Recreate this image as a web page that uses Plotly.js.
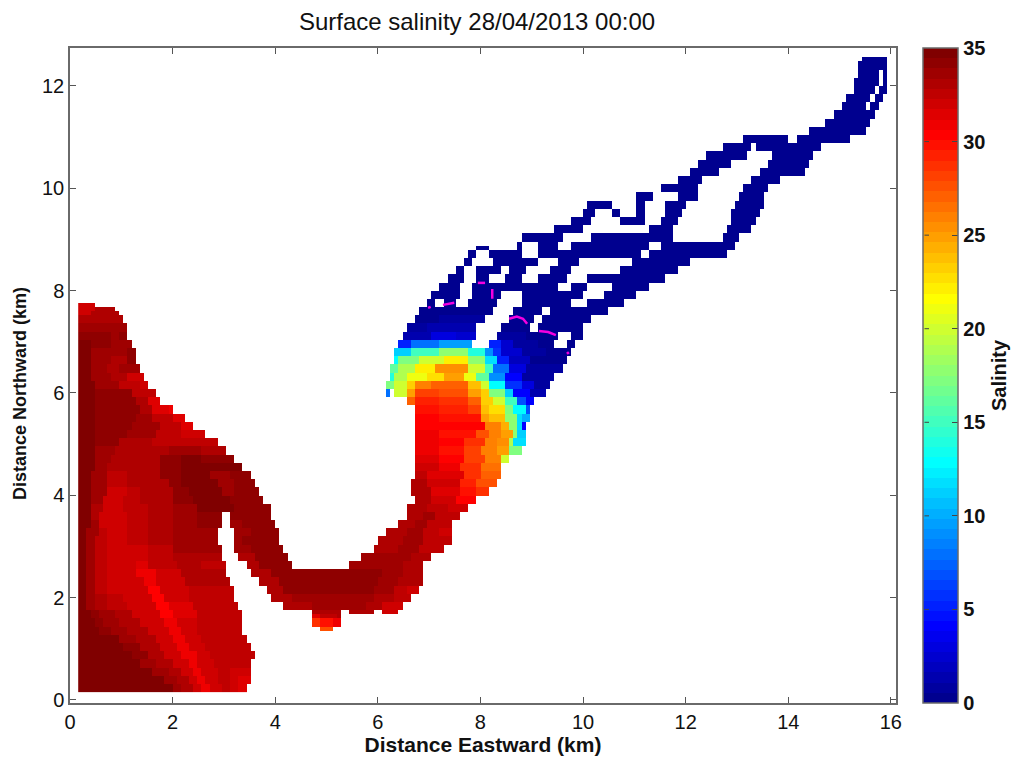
<!DOCTYPE html>
<html>
<head>
<meta charset="utf-8">
<script src="https://cdn.plot.ly/plotly-3.0.1.min.js"></script>
<style>html,body{margin:0;padding:0;background:#fff}#chart{width:1018px;height:758px}</style>
</head>
<body>
<div id="chart"></div>
<script>
// Each row: [northward km of row base, eastward km, salinity, eastward km, salinity, ..., closing eastward km]
// A null salinity is dry land between two wet stretches.
const salinityRows = [
[0.16, .16,35,1.7,34.6,2.0,33.8,2.2,33,2.4,32,2.58,31,2.72,32,2.95,32.8,3.1,32,3.3,31.2,3.45],
[0.32, .16,35,1.6,34.6,1.85,33.8,2.1,33,2.3,32,2.5,31,2.66,32,2.9,32.8,3.1,31.8,3.3,31.3,3.5],
[0.48, .16,35,1.4,34.6,1.6,33.9,1.9,33.1,2.15,32.2,2.4,31,2.6,32,2.85,32.6,3.1,31.8,3.5],
[0.64, .16,35,1.2,34.6,1.4,33.9,1.7,33.1,2.0,32.2,2.3,31,2.52,31.8,2.8,32.5,3.56],
[0.80, .16,35,1.0,34.6,1.2,34,1.55,33.2,1.85,32.2,2.2,31,2.45,31.8,2.7,32.4,3.6],
[0.96, .16,35,.85,34.6,1.05,34,1.4,33.2,1.75,32.2,2.12,31,2.35,31.8,2.65,32.4,3.53],
[1.12, .16,34.9,.75,34.5,.95,33.9,1.3,33,1.65,32.2,2.03,30.8,2.28,31.8,2.6,32.4,3.47],
[1.28, .16,34.9,.6,34.4,.8,33.8,1.15,33,1.5,32.2,1.93,30.8,2.18,31.8,2.5,32.4,3.39],
[1.36, .16,34.9,.6,34.4,.8,33.8,1.15,33,1.5,32.2,1.93,30.8,2.18,31.8,2.5,32.4,3.39,null,4.87,27.5,5.09],
[1.44, .16,34.8,.5,34.3,.65,33.7,1.0,33,1.35,32.1,1.85,30.7,2.1,31.8,2.5,32.4,3.37,null,4.72,28.5,4.87,30,5.1,31,5.32],
[1.60, .16,34.8,.42,34.1,.55,33.5,.85,32.9,1.2,32,1.78,30.6,2.02,31.7,2.45,32.4,3.34,null,4.72,31.5,4.9,32.8,5.2,33,5.32],
[1.68, .16,34.8,.42,34.1,.55,33.5,.85,32.9,1.2,32,1.78,30.6,2.02,31.7,2.45,32.4,3.34,null,4.72,33,5.32,null,5.46,33,5.91,null,6.08,32,6.43],
[1.76, .16,34.7,.36,33.9,.5,33.2,.75,32.7,1.1,32,1.68,30.5,1.95,31.7,2.4,32.5,3.28,null,4.13,33,4.7,33.4,5.5,33.6,5.8,33,6.1,32,6.49],
[1.92, .16,34.7,.34,33.7,.5,33,.72,32.4,1.05,31.8,1.6,30.5,1.88,31.8,2.35,32.6,3.22,null,3.96,33.2,4.3,33.8,5.6,33.6,5.9,33,6.3,32.3,6.63],
[2.08, .16,34.6,.32,33.5,.5,32.8,.7,32.2,1.0,31.8,1.5,30.6,1.8,32,2.3,32.8,3.18,null,3.84,33.2,4.2,34,5.9,33.5,6.3,32.8,6.6,32.2,6.78],
[2.24, .16,34.6,.32,33.5,.48,32.7,.7,32.1,1.0,31.8,1.42,30.8,1.72,32,2.25,32.9,3.12,null,3.7,33.2,4.1,34,4.8,34.3,6.0,33.6,6.4,33,6.88],
[2.40, .16,34.5,.3,33.4,.48,32.6,.7,32,1.0,31.8,1.32,31,1.65,32.2,2.2,33,3.08,null,3.55,33.3,3.9,34.1,4.6,34.2,5.6,34,6.1,33.6,6.5,33,6.88],
[2.56, .16,34.5,.3,33.4,.48,32.6,.7,32,1.0,31.9,1.25,31.4,1.55,32.4,2.1,33.1,2.6,32.8,3.02,null,3.45,33.3,3.7,34.1,4.35,null,5.46,33.6,6.1,33.8,6.5,33,6.86],
[2.72, .16,34.5,.3,33.4,.48,32.6,.7,32,1.0,32,1.2,31.8,1.5,32.6,2.0,33.3,2.98,null,3.31,33.3,3.6,34.2,4.23,null,5.69,33.4,6.3,33.9,6.65,33,7.02],
[2.88, .16,34.5,.3,33.4,.48,32.6,.7,32,1.1,32.2,1.5,32.8,2.0,33.4,2.94,null,3.24,33.5,3.5,34.2,4.15,null,5.89,33.3,6.4,33.8,6.8,32.8,7.27],
[3.04, .16,34.5,.33,33.4,.5,32.5,.7,32,1.15,32.4,1.5,32.9,2.0,33.6,2.92,null,3.18,33.7,3.4,34.2,4.11,null,6.04,33,6.5,33.8,6.9,32.6,7.41],
[3.20, .16,34.6,.35,33.4,.55,32.3,.75,31.9,1.1,32.4,1.5,33,2.0,33.7,2.5,33.9,2.88,null,3.22,33.8,3.5,34.2,4.05,null,6.18,33,6.55,33.6,6.9,32.6,7.2,32,7.41],
[3.36, .16,34.7,.38,33.4,.6,32.2,.8,32,1.1,32.5,1.5,33.1,2.0,33.8,2.5,34,2.94,null,3.16,33.9,3.4,34.3,4.0,null,6.39,33.2,6.75,33.4,7.0,32.5,7.41],
[3.52, .16,34.7,.38,33.3,.6,32.2,.85,32,1.1,32.6,1.5,33.1,2.0,33.7,2.5,34.2,2.98,null,3.12,34,3.4,34.3,3.94,null,6.53,33,6.9,33.5,7.1,32.3,7.6],
[3.68, .16,34.8,.4,33.2,.65,32,1.05,32.5,1.5,33,2.0,33.7,2.5,34.5,3.2,34,3.9,null,6.59,33,7.0,32.6,7.4,31.8,7.8],
[3.84, .16,34.8,.4,33.4,.65,32.2,1.05,32.6,1.4,33,2.0,34,2.4,34.7,3.1,34.1,3.74,null,6.69,33,7.05,32,7.55,30.2,7.95],
[4.00, .16,35,.4,33.5,.7,32.2,1.1,32.8,1.4,33.2,2.0,34.2,2.3,34.8,3.0,33.6,3.2,34.1,3.68,null,6.67,33,7.05,31.6,7.6,29.8,7.95,28.5,8.19],
[4.16, .16,35,.4,33.5,.7,32.5,1.1,33,1.5,33.2,1.9,34.3,2.2,35,2.9,33.5,3.2,34.2,3.57,null,6.61,33,7.0,32,7.6,29.5,7.95,27.5,8.32],
[4.32, .16,35,.42,33.5,.7,32.8,1.1,33.2,1.8,34.2,2.15,35,2.7,33.6,3.1,34,3.49,null,6.69,32.6,7.0,31.5,7.65,28.5,8.0,27,8.38],
[4.48, .16,35,.45,33.6,.75,33,1.1,33.2,1.8,34.2,2.15,35,2.6,34.5,3.35,null,6.74,32,7.2,31,7.6,28.5,8.0,26.5,8.38],
[4.64, .16,35,.45,33.7,.8,33.2,1.1,33.2,1.8,34,2.2,34.9,2.6,34.2,3.22,null,6.74,31.5,7.2,30.5,7.7,28,8.05,26,8.38,20,8.58],
[4.80, .16,35,.45,33.8,.9,33.2,1.5,33.2,1.9,33.8,2.6,33,3.04,null,6.74,31,7.2,30,7.65,28,8.0,26,8.29,25,8.55,17,8.77],
[4.96, .16,35,.45,34,1.0,33.3,1.6,32.8,2.3,32.4,2.88,null,6.69,31,7.2,30.5,7.65,28.5,8.07,26,8.29,25.5,8.55,19,8.68,12,8.85],
[5.12, .16,35,.45,34,1.1,33.4,1.7,32.8,2.2,31.8,2.63,null,6.74,30.7,7.2,30,7.95,27.5,8.15,26,8.38,25,8.62,18,8.75,11,8.87],
[5.28, .16,35,.45,34,1.2,33.4,1.8,32.6,2.2,31.3,2.44,null,6.74,30.6,7.2,30.3,8.05,26,8.38,24.5,8.55,18,8.73,12,8.83,4,8.89],
[5.44, .16,35,.45,34.3,1.3,33.6,1.6,32.3,2.0,31.2,2.24,null,6.74,30.5,7.2,30,8.0,25,8.2,24,8.5,18,8.7,12,8.83,10,8.93],
[5.60, .16,35,.45,34.3,1.4,33.3,1.6,31.6,1.9,31,2.03,null,6.69,30,7.2,29.5,7.8,28,8.0,24,8.2,22.5,8.48,17,8.68,13,8.87,7,8.97],
[5.76, .16,35,.45,34.2,1.3,33,1.5,31.3,1.79,null,6.59,27,6.72,29,7.2,28.5,7.8,27,8.0,23,8.26,20,8.5,15,8.7,7,8.87,4,9.06],
[5.92, .16,35,.45,34,1.2,32.5,1.66,null,6.14,8,6.24,null,6.35,20,6.55,25,6.74,28,7.2,27.5,7.8,25,7.99,23,8.19,17,8.48,11,8.68,4,8.97,1.5,9.26],
[6.08, .16,35,.45,33.8,1.0,32.3,1.4,32,1.56,null,6.2,17,6.35,20,6.55,23,6.74,26,7.02,27,7.8,24,7.99,20,8.19,13,8.48,6,8.77,3,9.06,1,9.4],
[6.24, .16,34.8,.4,33.7,.8,33,1.1,32,1.44,null,6.22,14,6.35,19,6.55,21,6.93,22.5,7.31,25,7.7,21,7.95,16,8.19,9,8.48,4,8.77,1,9.47],
[6.40, .16,34.8,.4,33.6,.7,33,1.0,33.5,1.36,null,6.26,16,6.43,19,6.72,22,7.12,25.5,7.8,20,8.07,15,8.26,8,8.58,3,8.87,.8,9.57],
[6.56, .16,34.6,.4,33.7,.8,33,1.1,34,1.31,null,6.3,13,6.43,17,6.82,20,7.31,22,7.8,18,8.07,12,8.31,5,8.58,2,8.97,.5,9.67],
[6.72, .16,34.6,.4,33.8,.9,33.4,1.1,34,1.27,null,6.32,11,6.63,15,7.21,18,7.8,14,8.07,9,8.26,6,8.38,2.5,8.77,1,9.26,.2,9.75],
[6.88, .16,34.5,.4,34,.8,33.6,1.21,null,6.43,5,6.63,8,7.21,9.5,7.86,null,8.19,5,8.38,2.5,8.68,1,9.16,.3,9.43,null,9.65,.2,9.81],
[7.04, .16,34.2,.6,34,.8,33.5,1.0,34,1.15,null,6.49,1.5,7.02,3,7.5,2.5,7.91,null,8.32,1,8.87,.2,9.51,null,9.73,.1,10.0],
[7.20, .16,33.8,.6,33.6,1.11,null,6.59,.8,7.0,1.5,7.95,null,8.38,.4,8.93,null,9.1,.1,10.04],
[7.36, .16,33,.35,33.2,1.05,null,6.71,.3,7.2,.7,8.11,null,8.54,.1,9.03,null,9.2,0,10.18],
[7.52, .16,32,.4,33,1.0,null,6.84,.1,8.21,null,8.64,0,9.2,null,9.36,0,10.49],
[7.60, .16,31.8,.5,33,.85,null,6.84,.1,8.21,null,8.64,0,9.2,null,9.36,0,10.49],
[7.68, .16,31.8,.5,null,6.96,0,7.12,null,7.25,0,7.56,null,7.78,0,8.29,null,8.77,0,9.8,null,10.08,0,10.78],
[7.76, 6.96,0,7.12,null,7.25,0,7.56,null,7.78,0,8.29,null,8.77,0,9.8,null,10.08,0,10.78],
[7.84, 7.06,0,7.58,null,7.84,0,8.38,null,8.83,0,9.98,null,10.39,0,11.03],
[8.00, 7.21,0,7.64,null,7.88,0,9.51,null,9.8,0,10.1,null,10.53,0,11.31],
[8.16, 7.37,0,7.66,null,7.89,0,8.19,null,8.52,0,8.77,null,9.16,0,9.65,null,10.08,0,11.58],
[8.32, 7.54,0,7.7,null,7.93,0,8.38,null,8.54,0,8.91,null,9.36,0,9.8,null,10.72,0,11.83],
[8.48, 7.66,0,7.86,null,8.25,0,9.12,null,9.55,0,9.92,null,10.97,0,12.05],
[8.64, 7.74,0,7.89,null,8.15,0,8.83,null,9.12,0,11.15,null,11.31,0,12.77],
[8.80, 7.89,0,8.19,null,8.73,0,8.83,null,9.12,0,9.51,null,9.75,0,11.31,null,11.56,0,12.96],
[8.88, 8.73,0,8.83,null,9.12,0,9.51,null,9.75,0,11.31,null,11.56,0,12.96],
[8.96, 8.81,0,9.59,null,10.18,0,11.79,null,12.73,0,13.06],
[9.12, 9.47,0,10.04,null,11.25,0,11.77,null,12.77,0,13.26],
[9.28, 9.75,0,10.18,null,10.72,0,11.17,null,11.5,0,11.83,null,12.87,0,13.39],
[9.44, 10.04,0,10.21,null,10.55,0,10.76,null,11.01,0,11.19,null,11.64,0,11.93,null,12.92,0,13.45],
[9.60, 10.06,0,10.53,null,11.01,0,11.19,null,11.64,0,12.03,null,13.0,0,13.49],
[9.76, 11.07,0,11.4,null,11.85,0,12.22,null,13.06,0,13.55],
[9.92, 11.5,0,12.28,null,13.16,0,13.61],
[10.08, 11.85,0,12.34,null,13.27,0,13.84],
[10.24, 12.11,0,12.61,null,13.45,0,14.35],
[10.40, 12.22,0,12.92,null,13.61,0,14.39],
[10.56, 12.42,0,13.22,null,13.7,0,14.48],
[10.72, 12.71,0,13.26,null,13.39,0,14.66],
[10.88, 13.16,0,14.0,null,14.15,0,15.24],
[11.04, 14.39,0,15.56],
[11.20, 14.74,0,15.63],
[11.36, 14.87,0,15.71],
[11.52, 15.07,0,15.5,null,15.58,0,15.73],
[11.68, 15.13,0,15.58,null,15.65,0,15.83],
[11.84, 15.28,0,15.65,null,15.79,0,15.93],
[12.00, 15.3,0,15.73,null,15.83,0,15.95],
[12.16, 15.34,0,15.73,null,15.83,0,15.95],
[12.32, 15.36,0,15.95],
[12.48, 15.42,0,15.93],
[12.60]
];

// Short broken pieces of the magenta contour
const contourEast  = [6.98,7.03,null,7.27,7.37,7.49,null,7.95,8.09,null,8.23,8.23,null,8.56,8.71,8.83,8.91,null,9.14,9.32,9.47,null,9.69,9.72];
const contourNorth = [7.66,7.68,null,7.72,7.74,7.76,null,8.15,8.15,null,8.03,7.84,null,7.45,7.49,7.45,7.35,null,7.21,7.19,7.13,null,6.80,6.76];

const eastTicks  = [0,2,4,6,8,10,12,14,16];
const northTicks = [0,2,4,6,8,10,12];
const barTicks   = [0,5,10,15,20,25,30,35];

const CELL = 0.08;
const gridEast = [], gridNorth = [];
for (let i = 0; i < 200; i++) gridEast.push(+(0.2 + i * CELL).toFixed(2));
for (let j = 0; j < 156; j++) gridNorth.push(+(0.2 + j * CELL).toFixed(2));

const gridSalinity = gridNorth.map(n => {
  let row = null;
  for (const r of salinityRows) { if (r[0] <= n) row = r; }
  return gridEast.map(e => {
    if (!row) return null;
    for (let k = 1; k + 2 < row.length; k += 2) {
      if (e >= row[k] && e < row[k + 2]) return row[k + 1];
    }
    return null;
  });
});

// 64-step jet colour table
function jetColour(t) {
  const c = v => Math.round(255 * Math.max(0, Math.min(1, 1.5 - Math.abs(4 * t - v))));
  return 'rgb(' + c(3) + ',' + c(2) + ',' + c(1) + ')';
}
const jetScale = [];
for (let i = 0; i < 64; i++) {
  const col = jetColour((i + 1) / 64);
  jetScale.push([i / 64, col], [(i + 1) / 64, col]);
}

const FONT = '"Liberation Sans", Arial, sans-serif';
const AXIS = '#6a6a6a';

const field = {
  type: 'heatmap', x: gridEast, y: gridNorth, z: gridSalinity,
  zmin: 0, zmax: 35, zsmooth: false, colorscale: jetScale, hoverongaps: false,
  colorbar: {
    lenmode: 'pixels', len: 655, thicknessmode: 'pixels', thickness: 35,
    x: (923 - 70) / 826, xanchor: 'left', xpad: 0, y: 1, yanchor: 'top', ypad: 0,
    outlinecolor: AXIS, outlinewidth: 1.5,
    tickmode: 'array', tickvals: barTicks, ticktext: barTicks.map(String),
    ticks: 'inside', ticklen: 6, tickcolor: '#444', tickwidth: 1,
    tickfont: {family: FONT, size: 20, color: '#111', weight: 'bold'},
    title: {text: 'Salinity', side: 'right', font: {family: FONT, size: 20, color: '#111', weight: 'bold'}}
  }
};
const contour = {
  type: 'scatter', mode: 'lines', x: contourEast, y: contourNorth,
  line: {color: '#f400e0', width: 2.5}, showlegend: false, hoverinfo: 'skip', connectgaps: false
};

const axisBase = {
  showgrid: false, zeroline: false, showline: true, linecolor: AXIS, linewidth: 1.5,
  mirror: 'ticks', ticks: 'inside', ticklen: 6, tickcolor: '#555', tickwidth: 1,
  tickfont: {family: FONT, size: 20, color: '#111'}
};

const barTickMarks = barTicks.slice(1, -1).map(v => ({
  xref: 'paper', yref: 'paper', x: (923 - 70) / 826 + 6 / 826, y: v / 35, xanchor: 'center',
  text: ' ', showarrow: true, arrowhead: 0, arrowwidth: 1, arrowcolor: '#444', axref: 'pixel', ayref: 'pixel',
  ax: -6, ay: 0, standoff: 0, startstandoff: 0, font: {size: 1}
}));

const northTitle = {
  xref: 'paper', yref: 'paper', x: (20 - 70) / 826, y: (703 - 394) / 655, xanchor: 'center', yanchor: 'middle',
  text: 'Distance Northward (km)', textangle: -90, showarrow: false,
  font: {family: FONT, size: 18, color: '#111', weight: 'bold'}
};

const layout = {
  width: 1018, height: 758, paper_bgcolor: '#fff', plot_bgcolor: '#fff',
  margin: {l: 70, r: 122, t: 48, b: 55, autoexpand: false}, showlegend: false,
  title: {text: 'Surface salinity 28/04/2013 00:00', x: 477 / 1018, xanchor: 'center', y: 1 - 22 / 758, yanchor: 'middle',
          font: {family: FONT, size: 24, color: '#111'}},
  xaxis: Object.assign({}, axisBase, {range: [0, 16.1], tickmode: 'array', tickvals: eastTicks, automargin: false,
    title: {text: 'Distance Eastward (km)', standoff: 2, font: {family: FONT, size: 21, color: '#111', weight: 'bold'}}}),
  yaxis: Object.assign({}, axisBase, {range: [-0.06, 12.74], tickmode: 'array', tickvals: northTicks, automargin: false}),
  annotations: barTickMarks.concat([northTitle])
};

Plotly.newPlot('chart', [field, contour], layout, {displayModeBar: false, responsive: false});
</script>
</body>
</html>
